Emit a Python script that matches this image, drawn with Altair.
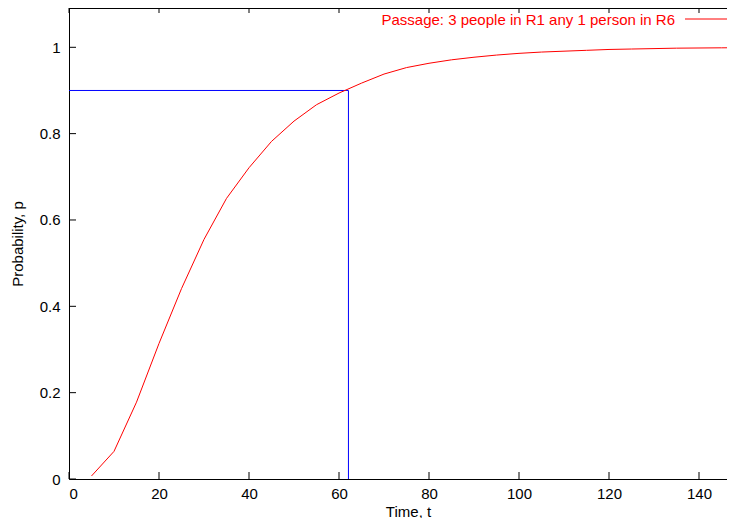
import altair as alt
import pandas as pd

# Passage-time CDF
times = [5, 10, 15, 20, 25, 30, 35, 40, 45, 50, 55, 60, 65, 70, 75, 80, 85, 90,
         95, 100, 105, 110, 115, 120, 125, 130, 135, 140, 145, 150]
probs = [0.007, 0.064, 0.178, 0.314, 0.441, 0.555, 0.650, 0.721, 0.782, 0.829,
         0.867, 0.894, 0.917, 0.938, 0.953, 0.963, 0.971, 0.977, 0.982, 0.986,
         0.989, 0.991, 0.993, 0.995, 0.996, 0.997, 0.998, 0.9984, 0.9988, 0.9991]

series_label = "Passage: 3 people in R1 any 1 person in R6"
quantile_p = [0.9]
quantile_t = [62.1]

x_ticks = [0, 20, 40, 60, 80, 100, 120, 140]
y_ticks = [0, 0.2, 0.4, 0.6, 0.8, 1.0]

W, H = 658, 471
PX_X, PX_Y = 4.5, 431.7
X_MAX = W / PX_X
Y_MAX = H / PX_Y
FONT = "Liberation Sans"
FS = 15
TICK = 7
TOP_TICK = 5

curve = pd.DataFrame({"t": times, "p": probs})
guide = pd.DataFrame({"t": quantile_t, "p": quantile_p, "t0": [0], "p0": [0]})
xt = pd.DataFrame({"v": x_ticks})
xt["b0"], xt["b1"] = 0.0, TICK / PX_Y
xt["t0"], xt["t1"] = Y_MAX, Y_MAX - TOP_TICK / PX_Y
yt = pd.DataFrame({"v": y_ticks})
yt["l0"], yt["l1"] = 0.0, TICK / PX_X

xs = alt.Scale(domain=[0, X_MAX], nice=False, zero=False)
ys = alt.Scale(domain=[0, Y_MAX], nice=False, zero=False)

x_axis = alt.Axis(values=x_ticks, ticks=False, grid=False, domain=True,
                  domainColor="black", domainWidth=1,
                  labelPadding=7, labelFontSize=FS, labelFont=FONT, labelColor="black",
                  title="Time, t", titleFontSize=FS, titleFont=FONT, titleFontWeight="normal",
                  titleColor="black", titleY=32, titleBaseline="middle", titleX=339)
y_axis = alt.Axis(values=y_ticks, ticks=False, grid=False, domain=True, format="~g",
                  domainColor="black", domainWidth=1,
                  labelPadding=9, labelFontSize=FS, labelFont=FONT, labelColor="black",
                  title="Probability, p", titleFontSize=FS, titleFont=FONT,
                  titleFontWeight="normal", titleColor="black", titleX=-52,
                  titleBaseline="middle")

line = alt.Chart(curve).mark_line(color="#ff0000", strokeWidth=1, clip=True).encode(
    x=alt.X("t:Q", scale=xs, axis=x_axis),
    y=alt.Y("p:Q", scale=ys, axis=y_axis),
)

hline = alt.Chart(guide).mark_rule(color="#0000ff", strokeWidth=1).encode(
    x=alt.X("t0:Q", scale=xs), x2="t:Q", y=alt.Y("p:Q", scale=ys)
)
vline = alt.Chart(guide).mark_rule(color="#0000ff", strokeWidth=1).encode(
    x=alt.X("t:Q", scale=xs), y=alt.Y("p0:Q", scale=ys), y2="p:Q"
)

bx = alt.Chart(xt).mark_rule(color="black", strokeWidth=1).encode(
    x=alt.X("v:Q", scale=xs), y=alt.Y("b0:Q", scale=ys), y2="b1:Q")
tx = alt.Chart(xt).mark_rule(color="black", strokeWidth=1).encode(
    x=alt.X("v:Q", scale=xs), y=alt.Y("t0:Q", scale=ys), y2="t1:Q")
ly = alt.Chart(yt).mark_rule(color="black", strokeWidth=1).encode(
    y=alt.Y("v:Q", scale=ys), x=alt.X("l0:Q", scale=xs), x2="l1:Q")
top_border = alt.Chart(pd.DataFrame({"v": [0]})).mark_rule(color="black").encode(
    x=alt.value(0), x2=alt.value(W), y=alt.value(0.5))

legend_text = alt.Chart(pd.DataFrame({"s": [series_label]})).mark_text(
    align="right", baseline="middle", fontSize=FS, font=FONT, color="#ff0000"
).encode(text="s:N", x=alt.value(606), y=alt.value(12))
legend_line = alt.Chart(pd.DataFrame({"s": [series_label]})).mark_rule(
    color="#ff0000", strokeWidth=1
).encode(x=alt.value(616), x2=alt.value(658), y=alt.value(11))

chart = alt.layer(hline, vline, line, top_border, bx, tx, ly,
                  legend_text, legend_line).properties(
    width=W, height=H,
    autosize=alt.AutoSizeParams(type="none"),
    padding={"left": 61, "top": 0, "right": 0, "bottom": 39},
).configure_view(stroke=None).configure(background="white")

chart.save("out.html", embed_options={"renderer": "svg", "actions": False})
